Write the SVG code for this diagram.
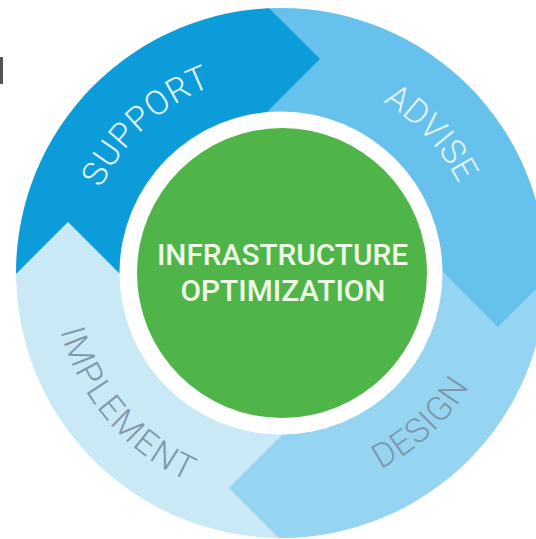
<svg xmlns="http://www.w3.org/2000/svg" width="536" height="539" viewBox="0 0 536 539">
<style>
.seg{font-family:"Roboto","Liberation Sans",sans-serif;font-weight:300;font-size:34px;text-anchor:middle}
.lt{fill:#e3f5fb}.dk{fill:#7f97ab}
.ctr{font-family:"Roboto","Liberation Sans",sans-serif;font-weight:500;font-size:29.800px;fill:#eef8e6;text-anchor:middle}
</style>
<defs>
<clipPath id="ring"><circle cx="281" cy="273" r="265"/></clipPath>
<path id="topOut" d="M82,273A199,199 0 0 1 480,273"/>
<path id="botDes" d="M61,273A220,220 0 0 0 501,273"/>
<path id="botImp" d="M53,273A228,228 0 0 0 509,273"/>
</defs>
<rect width="536" height="539" fill="#fff"/>
<rect x="0" y="57" width="3" height="27" fill="#555"/>
<g clip-path="url(#ring)">
<g id="implement"><circle cx="281" cy="273" r="265" fill="#c9e9f7"/></g>
<g id="design"><polygon points="400,229 560,300 560,539 280,539 229,488 340,377" fill="#96d5f1"/></g>
<g id="advise"><polygon points="270,0 560,0 560,265 498,327 400,229 250,150" fill="#66c2ec"/></g>
<g id="support"><polygon points="261,0 320,59 200,179 150,304 68,222 0,290 0,0" fill="#0d9cda"/></g>
</g>
<circle cx="281" cy="273" r="161.500" fill="#fff"/>
<g id="center"><circle cx="282" cy="273" r="145" fill="#4fb548"/>
<text class="ctr" x="282.500" y="265">INFRASTRUCTURE</text>
<text class="ctr" x="283" y="301">OPTIMIZATION</text></g>
<g id="labels">
<text class="seg lt" transform="rotate(-42.500 281 273)"><textPath href="#topOut" startOffset="50%" letter-spacing="1">SUPPORT</textPath></text>
<text class="seg lt" transform="rotate(47 281 273)"><textPath href="#topOut" startOffset="50%">ADVISE</textPath></text>
<text class="seg dk" transform="rotate(-43 281 273)"><textPath href="#botDes" startOffset="50%" letter-spacing="1">DESIGN</textPath></text>
<text class="seg dk" transform="rotate(49.500 281 273)"><textPath href="#botImp" startOffset="50%" letter-spacing="1.800">IMPLEMENT</textPath></text>
</g>
</svg>
